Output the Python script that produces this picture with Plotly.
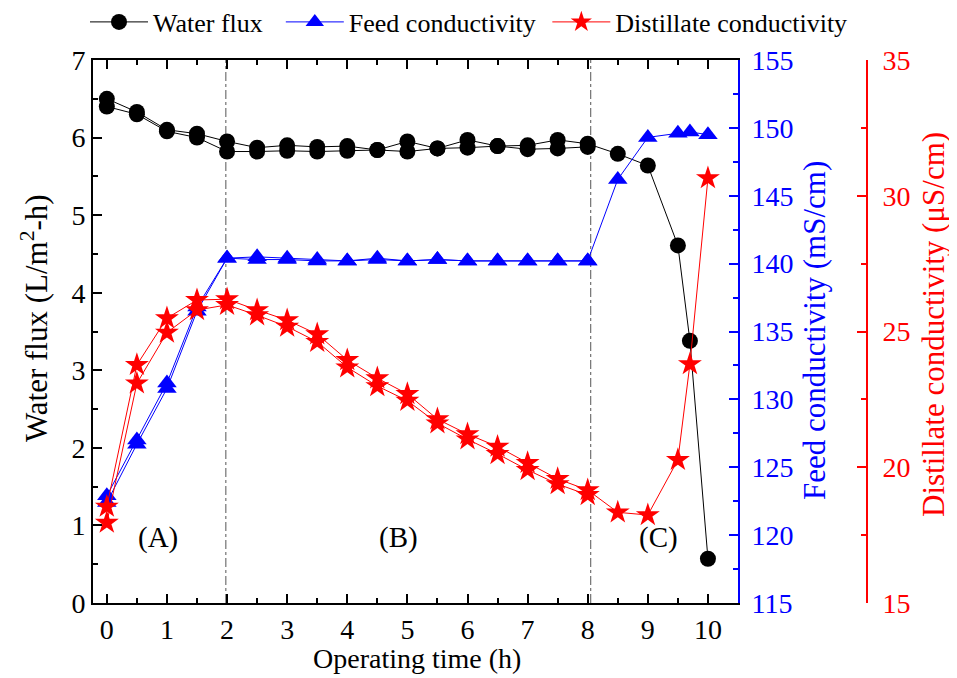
import plotly.graph_objects as go

# ---- data ----
t_run1 = [0, 0.5, 1, 1.5, 2, 2.5, 3, 3.5, 4, 4.5, 5, 5.5, 6, 6.5, 7, 7.5, 8, 8.5, 9, 9.5, 9.7, 10]
t_run2 = [0, 0.5, 1, 1.5, 2, 2.5, 3, 3.5, 4, 4.5, 5, 5.5, 6, 6.5, 7, 7.5, 8]

flux_run1 = [6.50, 6.33, 6.10, 6.05, 5.95, 5.87, 5.90, 5.88, 5.89, 5.84, 5.95, 5.86, 5.97, 5.89, 5.90, 5.97, 5.92,
             5.79, 5.64, 4.61, 3.38, 0.57]
flux_run2 = [6.40, 6.30, 6.08, 6.00, 5.82, 5.82, 5.83, 5.82, 5.83, 5.84, 5.82, 5.86, 5.87, 5.89, 5.85, 5.86, 5.88]

feed_run1 = [122.9, 127.0, 131.2, 136.8, 140.4, 140.5, 140.4, 140.3, 140.2, 140.4, 140.2, 140.3, 140.2, 140.2, 140.2,
             140.2, 140.2, 146.2, 149.3, 149.6, 149.7, 149.5]
feed_run2 = [122.4, 126.7, 130.8, 136.5, 140.4, 140.3, 140.3, 140.2, 140.2, 140.3, 140.2, 140.3, 140.2, 140.2, 140.2,
             140.2, 140.2]

dist_run1 = [18.55, 23.77, 25.49, 26.16, 26.19, 25.79, 25.42, 24.90, 23.95, 23.28, 22.70, 21.77, 21.22, 20.76, 20.16,
             19.57, 19.16, 18.34, 18.24, 20.27, 23.80, 30.65]
dist_run2 = [17.96, 23.09, 24.96, 25.79, 25.98, 25.60, 25.18, 24.62, 23.68, 22.99, 22.45, 21.62, 21.03, 20.49, 19.90,
             19.38, 18.98]

phase_bounds = [1.98, 8.05]
phase_labels = ["(A)", "(B)", "(C)"]
phase_label_x = [0.85, 4.85, 9.17]
phase_label_y = [0.85, 0.85, 0.85]

series_names = ["Water flux\u00a0\u00a0", "Feed conductivity\u00a0", "Distillate conductivity"]
x_title = "Operating time (h)"
y1_title = "Water flux (L/m<sup>2</sup>-h)"
y2_title = "Feed conductivity (mS/cm)"
y3_title = "Distillate conductivity (μS/cm)"

FONT = "Liberation Serif"
FS = 28
LFS = 26
VFS = 31

fig = go.Figure()

def add(t, y, color, symbol, size, name, axis, show):
    fig.add_trace(go.Scatter(
        x=t, y=y, mode="lines+markers", name=name, yaxis=axis, showlegend=show,
        line=dict(color=color, width=1),
        marker=dict(color=color, symbol=symbol, size=size),
    ))

add(t_run1, flux_run1, "black", "circle", 16, series_names[0], "y", True)
add(t_run2, flux_run2, "black", "circle", 16, series_names[0], "y", False)
add(t_run1, feed_run1, "blue", "triangle-up", 17, series_names[1], "y2", True)
add(t_run2, feed_run2, "blue", "triangle-up", 17, series_names[1], "y2", False)
add(t_run1, dist_run1, "red", "star", 18, series_names[2], "y3", True)
add(t_run2, dist_run2, "red", "star", 18, series_names[2], "y3", False)

for xb in phase_bounds:
    fig.add_shape(type="line", xref="x", yref="paper", x0=xb, x1=xb, y0=0, y1=1,
                  line=dict(color="#555555", width=1, dash="dashdot"), layer="below")

for lab, lx, ly in zip(phase_labels, phase_label_x, phase_label_y):
    fig.add_annotation(x=lx, y=ly, xref="x", yref="y", text=lab, showarrow=False,
                       font=dict(family=FONT, size=29, color="black"))

# figure is drawn 8px in from the page corner (body margin)
OFF = 8
W, H = 957 - OFF, 678 - OFF
ml, mt = 93 - OFF, 60 - OFF
plot_bottom = 603 - OFF
plot_right = 738 - OFF
mb = H - plot_bottom
mr = 49
pw = W - ml - mr
ph = H - mt - mb
dom_end = (plot_right - ml) / pw
red_pos = (867 - OFF - ml) / pw

def px(xpage):
    return (xpage - OFF - ml) / pw

def py(ypage):
    return (plot_bottom - (ypage - OFF)) / ph

# axis titles as annotations
fig.add_annotation(x=px(417), y=py(658), xref="paper", yref="paper", text=x_title, showarrow=False,
                   xanchor="center", yanchor="middle", font=dict(family=FONT, size=FS, color="black"))
fig.add_annotation(x=px(34), y=py(318), xref="paper", yref="paper", text=y1_title, showarrow=False,
                   textangle=-90, xanchor="center", yanchor="middle",
                   font=dict(family=FONT, size=VFS, color="black"))
fig.add_annotation(x=px(815), y=py(331), xref="paper", yref="paper", text=y2_title, showarrow=False,
                   textangle=-90, xanchor="center", yanchor="middle",
                   font=dict(family=FONT, size=VFS, color="blue"))
fig.add_annotation(x=px(933), y=py(325), xref="paper", yref="paper", text=y3_title, showarrow=False,
                   textangle=-90, xanchor="center", yanchor="middle",
                   font=dict(family=FONT, size=VFS, color="red"))

fig.update_layout(
    width=W, height=H,
    margin=dict(l=ml, r=mr, t=mt, b=mb, autoexpand=False),
    plot_bgcolor="white", paper_bgcolor="white",
    font=dict(family=FONT, size=FS, color="black"),
    showlegend=True,
    legend=dict(orientation="h", x=px(85), xanchor="left", y=py(22),
                yanchor="middle", font=dict(family=FONT, size=LFS), bgcolor="rgba(0,0,0,0)",
                itemwidth=58, tracegroupgap=0),
    xaxis=dict(
        domain=[0, dom_end], range=[-0.23, 10.5],
        tickmode="linear", tick0=0, dtick=1,
        ticks="inside", ticklen=9, tickwidth=1.5, tickcolor="black",
        minor=dict(ticks="inside", dtick=0.5, tick0=0, ticklen=5, tickwidth=1.5, tickcolor="black"),
        showline=True, linecolor="black", linewidth=2, mirror="ticks",
        showgrid=False, zeroline=False,
        tickfont=dict(family=FONT, size=FS),
    ),
    yaxis=dict(
        range=[0, 7], tickmode="linear", tick0=0, dtick=1,
        ticks="inside", ticklen=9, tickwidth=1.5, tickcolor="black",
        minor=dict(ticks="inside", dtick=0.5, ticklen=5, tickwidth=1.5, tickcolor="black"),
        showline=True, linecolor="black", linewidth=2,
        showgrid=False, zeroline=False,
        tickfont=dict(family=FONT, size=FS),
    ),
    yaxis2=dict(
        overlaying="y", side="right", anchor="x",
        range=[115, 155], tickmode="linear", tick0=115, dtick=5,
        ticks="inside", ticklen=9, tickwidth=1.5, tickcolor="blue",
        minor=dict(ticks="inside", dtick=2.5, ticklen=5, tickwidth=1.5, tickcolor="blue"),
        showline=True, linecolor="blue", linewidth=2,
        showgrid=False, zeroline=False, ticklabelstandoff=6,
        tickfont=dict(family=FONT, size=FS, color="blue"),
    ),
    yaxis3=dict(
        overlaying="y", side="right", anchor="free", position=red_pos,
        range=[15, 35], tickmode="linear", tick0=15, dtick=5,
        ticks="inside", ticklen=9, tickwidth=1.5, tickcolor="red",
        minor=dict(ticks="inside", dtick=2.5, ticklen=5, tickwidth=1.5, tickcolor="red"),
        showline=True, linecolor="red", linewidth=2,
        showgrid=False, zeroline=False, ticklabelstandoff=9,
        tickfont=dict(family=FONT, size=FS, color="red"),
    ),
)

fig.write_html("out.html")
